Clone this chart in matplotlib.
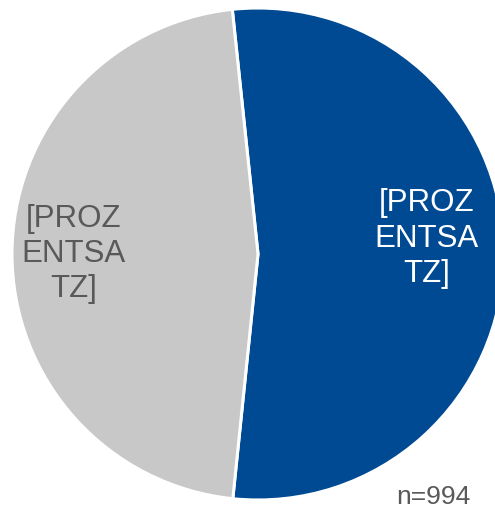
import numpy as np
import matplotlib.pyplot as plt

plt.rcParams['font.family'] = ['Liberation Sans', 'DejaVu Sans']

labels = ["[PROZ\nENTSA\nTZ]", "[PROZ\nENTSA\nTZ]"]
values = [53.3, 46.7]
colors = ['#004A94', '#C8C8C8']
text_colors = ['white', '#595959']
label_radius = [0.687, 0.748]
label_shift = [5.2, 0.0]  # degrees off the wedge middle
n_total = 994

fig = plt.figure(figsize=(4.95, 5.09), dpi=100)
ax = fig.add_axes([0, 0, 1, 1])

cx, cy, r = 258, 509 - 254, 246
wedges, _ = ax.pie(values, colors=colors, startangle=96, counterclock=False,
                   center=(cx, cy), radius=r,
                   wedgeprops=dict(edgecolor='white', linewidth=2.2))

for w, lab, tc, lr, sh in zip(wedges, labels, text_colors, label_radius, label_shift):
    mid = np.deg2rad((w.theta1 + w.theta2) / 2 + sh)
    x = cx + lr * r * np.cos(mid)
    y = cy + lr * r * np.sin(mid)
    ax.text(x, y, lab, ha='center', va='center', color=tc, fontsize=22.5,
            linespacing=1.22)

ax.text(470, 509 - 497, "n=%d" % n_total, ha='right', va='center',
        color='#595959', fontsize=19)

ax.set_xlim(0, 495)
ax.set_ylim(0, 509)
ax.set_aspect('equal')
ax.axis('off')

fig.savefig('out.png', dpi=100)
